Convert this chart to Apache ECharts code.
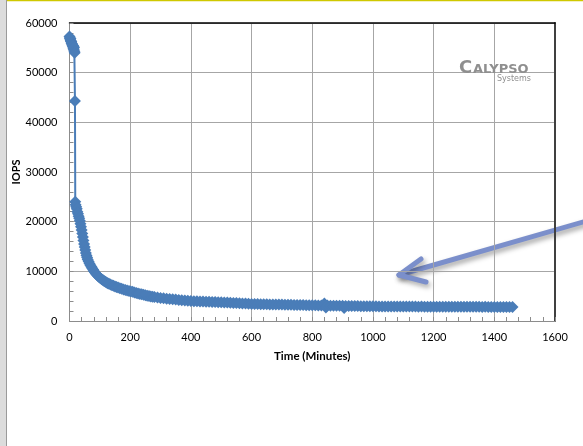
<!DOCTYPE html>
<html>
<head>
<meta charset="utf-8">
<script src="https://cdn.jsdelivr.net/npm/echarts@6/dist/echarts.min.js"></script>
<style>
html,body{margin:0;padding:0;background:#fff;}
#chart{width:583px;height:446px;}
</style>
</head>
<body>
<div id="chart"></div>
<script>
// Time (minutes)
const times = [
0,1,2,3,4,5,6,7,8,9,10,11,12,13,14,15,16,17,18,19,
20,22,24,26,28,30,32,34,36,38,40,42,44,46,48,50,52,54,56,58,
60,63,66,69,72,75,78,81,84,87,90,94,98,102,106,110,114,118,122,126,
130,135,140,145,150,155,160,166,172,178,184,190,196,202,208,214,220,226,232,238,
244,250,256,262,268,274,280,290,300,310,320,330,340,350,360,370,380,390,400,410,
420,430,440,450,460,470,480,490,500,510,520,530,540,550,560,570,580,590,600,610,
620,630,640,650,660,670,680,690,700,710,720,730,740,750,760,770,780,790,800,810,
820,830,840,845,850,860,870,880,890,900,905,910,920,930,940,950,960,970,980,990,
1000,1010,1020,1030,1040,1050,1060,1070,1080,1090,1100,1110,1120,1130,1140,1150,1160,1170,1180,1190,
1200,1210,1220,1230,1240,1250,1260,1270,1280,1290,1300,1310,1320,1330,1340,1350,1360,1370,1380,1390,
1400,1410,1420,1430,1440,1450,1460
];
// IOPS
const iops = [
57300,57000,56800,56900,56500,56300,56200,55900,55800,55600,55500,55200,55400,54900,54600,55100,54300,54000,44300,24000,
23400,23000,22600,22000,21600,21100,20700,20200,19600,19000,18300,17600,16900,16200,15500,14900,14300,13700,13200,12800,
12400,12000,11600,11200,10900,10600,10300,10000,9750,9500,9300,9050,8800,8600,8400,8250,8050,7900,7750,7600,
7500,7350,7200,7100,6950,6850,6750,6600,6500,6350,6250,6150,6050,5950,5900,5750,5650,5550,5450,5400,
5300,5200,5100,5050,4950,4900,4850,4750,4650,4600,4500,4450,4400,4350,4250,4200,4150,4100,4050,4000,
3980,3950,3920,3900,3870,3850,3820,3800,3780,3750,3700,3680,3620,3600,3560,3520,3500,3460,3440,3420,
3400,3380,3360,3350,3340,3330,3320,3310,3300,3280,3270,3250,3240,3220,3210,3200,3180,3170,3150,3150,
3140,3120,3500,2700,3100,3090,3080,3070,3060,3050,2600,3040,3030,3020,3010,3000,2990,2980,2970,2960,
2950,2950,2940,2940,2930,2930,2920,2930,2920,2910,2910,2900,2910,2900,2900,2890,2900,2890,2890,2880,
2890,2880,2880,2870,2880,2870,2870,2860,2870,2860,2860,2850,2860,2850,2850,2850,2840,2850,2840,2840,
2840,2830,2840,2830,2830,2830,2830
];
const xTicks = {min:0, max:1600, step:200};
const yTicks = {min:0, max:60000, step:10000};

const seriesData = times.map((t,i)=>[t, iops[i]]);
const blue = '#4a7db8';
const gridGray = '#a6a6a6';
const font = 'Lato, "Open Sans", sans-serif';
const logoFont = '"DejaVu Sans", sans-serif';
const plain = v => String(v);

const chart = echarts.init(document.getElementById('chart'), null, {renderer:'canvas'});
chart.setOption({
  backgroundColor:'#ffffff',
  animation:false,
  grid:{left:69.5, right:28, top:23, bottom:125, containLabel:false, outerBoundsMode:'none'},
  xAxis:[{
    type:'value', min:xTicks.min, max:xTicks.max, interval:xTicks.step,
    name:'Time (Minutes)', nameLocation:'middle', nameGap:29, nameMoveOverlap:false,
    nameTextStyle:{fontFamily:font, fontWeight:'bold', fontSize:11.5, color:'#000'},
    axisLine:{show:true, onZero:false, lineStyle:{color:'#8c8c8c', width:1}},
    axisTick:{show:true, inside:true, length:4, lineStyle:{color:'#8c8c8c'}},
    minorTick:{show:true, splitNumber:5, length:4, lineStyle:{color:'#8c8c8c'}},
    splitLine:{show:true, lineStyle:{color:gridGray, width:1}},
    axisLabel:{fontFamily:font, fontSize:11, color:'#000', margin:11, formatter:plain}
  },{
    type:'value', position:'top', min:xTicks.min, max:xTicks.max, interval:xTicks.step,
    axisLine:{show:true, onZero:false, lineStyle:{color:'#000', width:1.5}},
    axisTick:{show:false}, axisLabel:{show:false}, splitLine:{show:false}
  }],
  yAxis:[{
    type:'value', min:yTicks.min, max:yTicks.max, interval:yTicks.step,
    name:'IOPS', nameLocation:'middle', nameGap:48, nameMoveOverlap:false,
    nameTextStyle:{fontFamily:font, fontWeight:'bold', fontSize:11, color:'#000'},
    axisLine:{show:true, onZero:false, lineStyle:{color:'#8c8c8c', width:1}},
    axisTick:{show:true, inside:true, length:4, lineStyle:{color:'#8c8c8c'}},
    minorTick:{show:true, splitNumber:5, length:4, lineStyle:{color:'#8c8c8c'}},
    splitLine:{show:true, lineStyle:{color:gridGray, width:1}},
    axisLabel:{fontFamily:font, fontSize:11, color:'#000', margin:12, formatter:plain}
  },{
    type:'value', position:'right', min:yTicks.min, max:yTicks.max, interval:yTicks.step,
    axisLine:{show:true, onZero:false, lineStyle:{color:'#404040', width:2}},
    axisTick:{show:false}, axisLabel:{show:false}, splitLine:{show:false}
  }],
  series:[{
    type:'line', xAxisIndex:0, yAxisIndex:0,
    data:seriesData,
    symbol:'diamond', symbolSize:12, showAllSymbol:true,
    itemStyle:{color:blue},
    lineStyle:{color:blue, width:2},
    z:3
  }],
  graphic:[
    {type:'rect', shape:{x:0, y:0, width:6, height:446}, style:{fill:'#dcdcdc'}, z:10},
    {type:'line', shape:{x1:6.5, y1:0, x2:6.5, y2:446}, style:{stroke:'#9a9a9a', lineWidth:1}, z:10},
    {type:'line', shape:{x1:7, y1:0.5, x2:583, y2:0.5}, style:{stroke:'#cfc800', lineWidth:1.5}, z:10},
    {type:'group', z:20, children:[
      {type:'polyline', shape:{points:[[590,220],[399,275]]},
       style:{stroke:'#7b8fcb', lineWidth:5, lineCap:'round', shadowBlur:5, shadowOffsetX:2, shadowOffsetY:3, shadowColor:'rgba(0,0,0,0.35)'}},
      {type:'polyline', shape:{points:[[421,259],[399,275],[426,282]]},
       style:{stroke:'#7b8fcb', fill:null, lineWidth:5, lineCap:'round', lineJoin:'round', shadowBlur:5, shadowOffsetX:2, shadowOffsetY:3, shadowColor:'rgba(0,0,0,0.35)'}}
    ]},
    {type:'text', x:459, y:59, z:15, style:{text:'C', fontFamily:logoFont, fontWeight:'bold', fontSize:18, fill:'#8f8f8f'}},
    {type:'text', x:473, y:63, z:15, style:{text:'ALYPSO', fontFamily:logoFont, fontWeight:'bold', fontSize:13, fill:'#8f8f8f'}},
    {type:'text', x:497, y:75, z:15, style:{text:'Systems', fontFamily:logoFont, fontSize:8, fill:'#8f8f8f'}}
  ]
});
</script>
</body>
</html>
